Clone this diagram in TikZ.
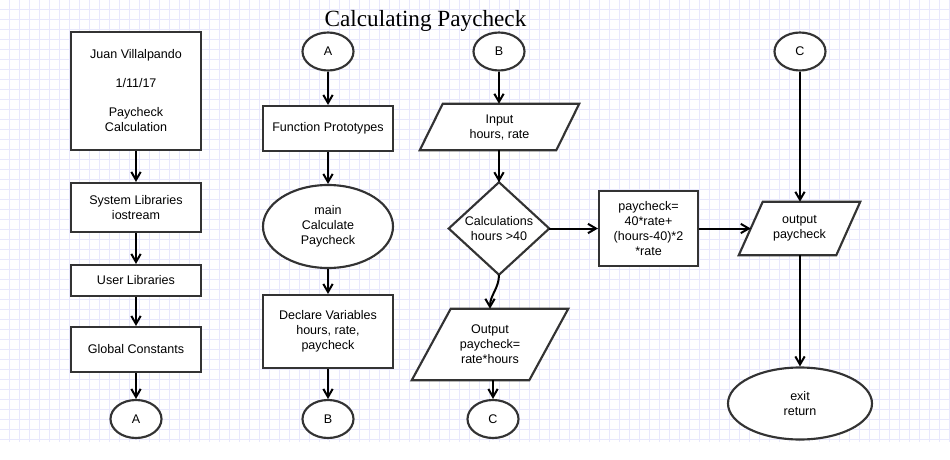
\documentclass[tikz,border=0pt]{standalone}
\usepackage{fontspec}
\setmainfont{Liberation Sans}
\newfontfamily\titlefont{Liberation Serif}
\usetikzlibrary{shapes.geometric,arrows.meta,calc}
\pgfdeclarelayer{bg}\pgfdeclarelayer{shp}\pgfsetlayers{bg,shp,main}
\definecolor{gridc}{RGB}{232,232,252}
\definecolor{edgec}{RGB}{51,51,51}
\begin{document}
\begin{tikzpicture}[x=0.75pt,y=-0.75pt,
 every node/.style={font=\fontsize{9.4}{11.25}\selectfont, align=center, inner sep=0pt, text=black},
 box/.style={draw=edgec, line width=1.6pt, fill=white, rectangle},
 frame/.style={rectangle},
 oval/.style={draw=edgec, line width=1.6pt, fill=white, ellipse},
 conn/.style={oval, minimum width=38.25pt, minimum height=28.5pt},
 arr/.style={-{Straight Barb[length=6pt,width=7pt]}, line width=1.5pt, black},
 shpath/.style={draw=edgec, line width=1.6pt, fill=white, line join=miter}]
\useasboundingbox (0,0) rectangle (950,460);
\begin{pgfonlayer}{bg}
 \fill[white] (0,0) rectangle (950,460);
 \foreach \i in {0,...,94} \draw[gridc, line width=0.75pt] (\i*10+9.5,0) -- (\i*10+9.5,442);
 \foreach \j in {0,...,43} \draw[gridc, line width=0.75pt] (0,\j*10+9.5) -- (950,\j*10+9.5);
\end{pgfonlayer}

% title
\node[font=\titlefont\fontsize{17.4}{19}\selectfont, anchor=base] (title) at (425.5,27) {Calculating Paycheck};

% column 1
\node[box, minimum width=97.5pt, minimum height=88.5pt] (b1) at (136,91) {Juan Villalpando\\[10.5pt]1/11/17\\[10.5pt]Paycheck\\Calculation};
\node[box, minimum width=97.5pt, minimum height=36.75pt] (b2) at (136,207.5) {System Libraries\\iostream};
\node[box, minimum width=97.5pt, minimum height=23.25pt] (b3) at (136,280.5) {User Libraries};
\node[box, minimum width=97.5pt, minimum height=33.75pt] (b4) at (136,349.5) {Global Constants};
\node[conn] (a1) at (136,419) {A};

% column 2
\node[conn] (a2) at (328,51.5) {A};
\node[box, minimum width=97.5pt, minimum height=33.75pt] (fp) at (328,128.5) {Function Prototypes};
\node[oval, minimum width=97.5pt, minimum height=62.25pt] (mn) at (328,226.5) {main\\Calculate\\Paycheck};
\node[box, minimum width=97.5pt, minimum height=54.75pt] (dv) at (328,331.5) {Declare Variables\\hours, rate,\\paycheck};
\node[conn] (bb1) at (328,419) {B};

% column 3
\node[conn] (bb2) at (499,51.5) {B};
\node[frame, minimum width=119.25pt, minimum height=34.5pt] (in) at (499.5,127) {Input\\hours, rate};
\node[frame, minimum width=75pt, minimum height=69pt] (dia) at (499,228.5) {Calculations\\hours >40};
\node[box, minimum width=74.25pt, minimum height=56.25pt] (calc) at (648.5,228.5) {paycheck=\\40*rate+\\(hours-40)*2\\*rate};
\node[frame, minimum width=117pt, minimum height=53.25pt] (op) at (490,344.5) {Output\\paycheck=\\rate*hours};
\node[conn] (c1) at (493,419) {C};

% column 4
\node[conn] (c2) at (800,51.5) {C};
\node[frame, minimum width=90.75pt, minimum height=39.75pt] (pr) at (799.5,228.5) {output\\paycheck};
\node[oval, minimum width=108pt, minimum height=54pt] (ex) at (800,403.5) {exit\\return};
\coordinate (prw) at ($(pr.west)+(9pt,0pt)$);

% drawn shapes
\begin{pgfonlayer}{shp}
 \draw[shpath] ($(in.north west)+(17.25pt,0pt)$) -- (in.north east) -- ($(in.south east)-(17.25pt,0pt)$) -- (in.south west) -- cycle;
 \draw[shpath] (dia.north) -- (dia.east) -- (dia.south) -- (dia.west) -- cycle;
 \draw[shpath] ($(op.north west)+(29.25pt,0pt)$) -- (op.north east) -- ($(op.south east)-(29.25pt,0pt)$) -- (op.south west) -- cycle;
 \draw[shpath] ($(pr.north west)+(18pt,0pt)$) -- (pr.north east) -- ($(pr.south east)-(18pt,0pt)$) -- (pr.south west) -- cycle;
\end{pgfonlayer}

% connectors
\draw[arr] (b1) -- (b2);
\draw[arr] (b2) -- (b3);
\draw[arr] (b3) -- (b4);
\draw[arr] (b4) -- (a1);
\draw[arr] (a2) -- (fp);
\draw[arr] (fp) -- (mn);
\draw[arr] (mn) -- (dv);
\draw[arr] (dv) -- (bb1);
\draw[arr] (bb2.south) -- (bb2.south |- in.north);
\draw[arr] (in.south -| dia.north) -- (dia.north);
\draw[arr] (dia.east) -- (calc.west);
\draw[arr] (dia.south) to[out=-90,in=90] (op.north);
\draw[arr] (op.south -| c1.north) -- (c1.north);
\draw[arr] (calc.east) -- (prw);
\draw[arr] (c2.south) -- (c2.south |- pr.north);
\draw[arr] (pr.south -| ex.north) -- (ex.north);
\end{tikzpicture}
\end{document}
